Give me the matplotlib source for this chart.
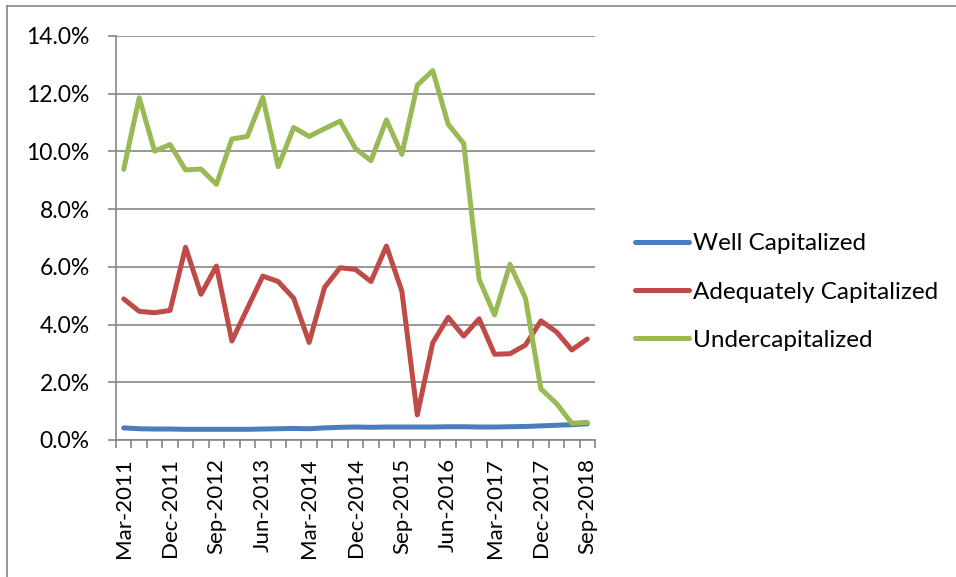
import numpy as np
import matplotlib
matplotlib.use('Agg')
import matplotlib.pyplot as plt
from matplotlib.lines import Line2D

# quarterly observations, Mar-2011 .. Sep-2018
quarters = []
for yr in range(2011, 2019):
    for m in ['Mar', 'Jun', 'Sep', 'Dec']:
        quarters.append(f'{m}-{yr}')
quarters = quarters[:31]

well_cap = [0.42, 0.39, 0.38, 0.38, 0.37, 0.37, 0.37, 0.37, 0.37, 0.38, 0.39,
            0.40, 0.39, 0.42, 0.44, 0.45, 0.44, 0.45, 0.45, 0.45, 0.45, 0.46,
            0.46, 0.45, 0.45, 0.46, 0.47, 0.49, 0.51, 0.53, 0.56]
adequately_cap = [4.89, 4.46, 4.41, 4.49, 6.68, 5.05, 6.03, 3.43, 4.56, 5.68, 5.49,
                  4.91, 3.38, 5.29, 5.97, 5.91, 5.49, 6.72, 5.16, 0.87, 3.37, 4.25,
                  3.60, 4.20, 2.97, 2.99, 3.29, 4.13, 3.75, 3.12, 3.50]
under_cap = [9.38, 11.86, 10.01, 10.24, 9.36, 9.39, 8.86, 10.43, 10.52, 11.87, 9.47,
             10.83, 10.52, 10.79, 11.05, 10.10, 9.68, 11.09, 9.90, 12.30, 12.80, 10.94,
             10.28, 5.57, 4.33, 6.09, 4.91, 1.77, 1.27, 0.58, 0.61]

series = [('Well Capitalized', well_cap, '#4A7EBB'),
          ('Adequately Capitalized', adequately_cap, '#BE4B48'),
          ('Undercapitalized', under_cap, '#98B954')]

plt.rcParams['font.family'] = ['Lato', 'DejaVu Sans']
GRID = '#868686'
FS = 16.5

fig = plt.figure(figsize=(9.56, 5.77), dpi=100)
ax = fig.add_axes([116/956, 1-440/577, (595-116)/956, (440-36)/577])

x = np.arange(len(quarters))
for name, vals, col in series:
    ax.plot(x, vals, color=col, lw=3.6, solid_capstyle='round', solid_joinstyle='round', label=name)

ax.set_xlim(-0.5, len(quarters) - 0.5)
ax.set_ylim(0, 14)
ax.set_yticks(np.arange(0, 14.1, 2))
ax.set_yticklabels([f'{v:.1f}%' for v in np.arange(0, 14.1, 2)])
ax.yaxis.grid(True, color=GRID, lw=1.2)
ax.set_axisbelow(True)

ax.set_xticks(x[::3])
ax.set_xticklabels(quarters[::3], rotation=90)
ax.set_xticks(np.arange(-0.5, len(quarters)), minor=True)
ax.tick_params(axis='x', which='major', length=0, pad=13, labelsize=16)
ax.tick_params(axis='x', which='minor', length=6, color=GRID, width=1.2)
ax.tick_params(axis='y', length=6, color=GRID, width=1.2, pad=13, labelsize=FS)

for s in ['top', 'right']:
    ax.spines[s].set_visible(False)
for s in ['left', 'bottom']:
    ax.spines[s].set_color(GRID)
    ax.spines[s].set_linewidth(1.2)

ax.legend(loc='center left', bbox_to_anchor=(1.083, 0.366), frameon=False,
          fontsize=17.5, handlelength=2.25, handletextpad=0.15, labelspacing=1.12,
          borderpad=0, borderaxespad=0)

# chart area border (top and left edges visible)
fig.add_artist(Line2D([6.5/956, 6.5/956], [0, 1-5.5/577], transform=fig.transFigure, color=GRID, lw=1.2))
fig.add_artist(Line2D([6.5/956, 1], [1-5.5/577, 1-5.5/577], transform=fig.transFigure, color=GRID, lw=1.2))

fig.savefig('out.png', dpi=100)
